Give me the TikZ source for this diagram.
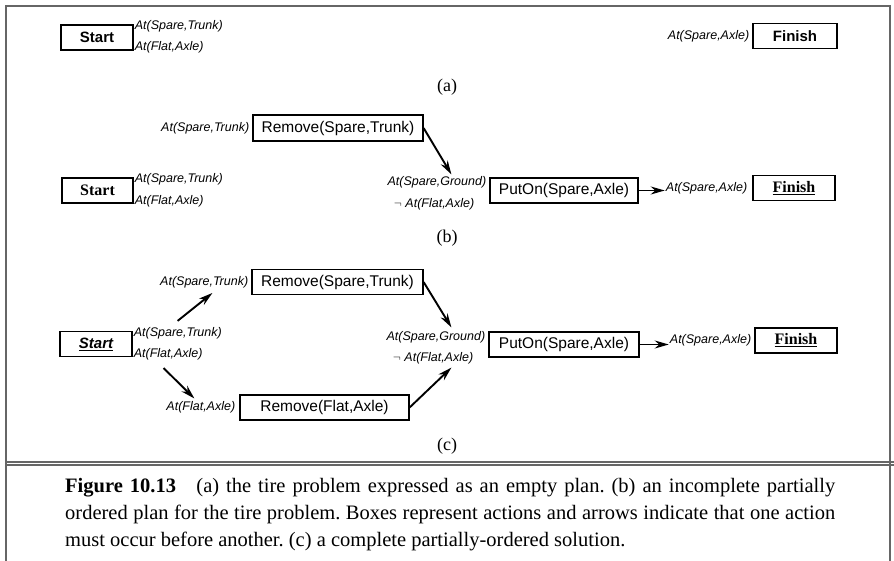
\documentclass[tikz,border=0pt]{standalone}
\usepackage{fontspec}
\setmainfont{Liberation Serif}
\setsansfont{Liberation Sans}
\usetikzlibrary{arrows.meta}
\tikzset{act/.style={draw=black,line width=1.2pt,inner sep=0pt,minimum height=25pt,font=\sffamily\fontsize{15.5}{16}\selectfont},
 endact/.style={act,font=\sffamily\bfseries\fontsize{15}{16}\selectfont},
 cond/.style={inner sep=1pt,font=\sffamily\itshape\fontsize{12.5}{13}\selectfont},
 arrow/.style={-{Stealth[length=14pt,width=8pt]},line width=1.9pt},
 frame/.style={draw=black!60,line width=1.6pt}}

\begin{document}
\begin{tikzpicture}[x=1pt,y=-1pt]
 \useasboundingbox (0,0) rectangle (894,561);
 % frame and caption rule
 \draw[frame] (6,561) -- (6,6) -- (890,6) -- (890,561);
 \draw[frame,line width=1.2pt] (6,462) -- (894,462);
 \draw[frame,line width=1.2pt] (6,465) -- (894,465);
 \foreach \y/\lab in {87/a,238/b,446/c}{
  \node[font=\fontsize{18}{20}\selectfont] (part\lab) at (447,\y) {(\lab)};
 }
 % (a) empty plan
 \node[endact,minimum width=72pt] (starta) at (97,37.5) {Start};
 \node[cond,anchor=west] (sta1) at ([yshift=-2pt]starta.north east) {At(Spare,Trunk)};
 \node[cond,anchor=west] (sta2) at ([yshift=3pt]starta.south east) {At(Flat,Axle)};
 \node[endact,minimum width=84pt] (fina) at (795,36) {Finish};
 \node[cond,anchor=east] (fna) at ([xshift=-2pt]fina.west) {At(Spare,Axle)};

 % (b) incomplete plan
 \node[act,minimum width=170pt,minimum height=26pt] (remb) at (338,128) {Remove(Spare,Trunk)};
 \node[cond,anchor=east] (rmb) at ([xshift=-2pt]remb.west) {At(Spare,Trunk)};
 \node[endact,minimum width=71pt,font=\rmfamily\bfseries\fontsize{16}{16}\selectfont] (startb) at (97.5,190.5) {Start};
 \node[cond,anchor=west] (stb1) at ([yshift=-2pt]startb.north east) {At(Spare,Trunk)};
 \node[cond,anchor=west] (stb2) at ([yshift=2pt]startb.south east) {At(Flat,Axle)};
 \node[act,minimum width=148pt] (putb) at (564,190.5) {PutOn(Spare,Axle)};
 \node[cond,anchor=east] (pb1) at ([xshift=-2pt,yshift=-5pt]putb.north west) {At(Spare,Ground)};
 \node[cond,anchor=east] (pb2) at ([xshift=-14pt,yshift=-1pt]putb.south west) {$\neg$ At(Flat,Axle)};
 \node[endact,minimum width=82pt,font=\rmfamily\bfseries\fontsize{16}{16}\selectfont] (finb) at (794,188) {\underline{Finish}};
 \node[cond,anchor=east] (fnb) at ([xshift=-4pt]finb.west) {At(Spare,Axle)};
 \draw[arrow] (remb.east) -- ([xshift=-38pt,yshift=3pt]putb.north west);
 \draw[arrow] (putb.east) -- (putb.east -| fnb.west);

 % (c) complete plan
 \node[endact,minimum width=72pt,font=\sffamily\bfseries\itshape\fontsize{15}{16}\selectfont] (startc) at (96,344) {\underline{Start}};
 \node[cond,anchor=west] (stc1) at ([yshift=-2pt]startc.north east) {At(Spare,Trunk)};
 \node[cond,anchor=west] (stc2) at ([yshift=3pt]startc.south east) {At(Flat,Axle)};
 \node[act,minimum width=171pt] (remc) at (337.5,282) {Remove(Spare,Trunk)};
 \node[cond,anchor=east] (rmc) at ([xshift=-2pt]remc.west) {At(Spare,Trunk)};
 \node[act,minimum width=169pt] (remf) at (324.5,407.5) {Remove(Flat,Axle)};
 \node[cond,anchor=east] (rmf) at ([xshift=-3pt]remf.west) {At(Flat,Axle)};
 \node[act,minimum width=150pt] (putc) at (564,344.5) {PutOn(Spare,Axle)};
 \node[cond,anchor=east] (pc1) at ([xshift=-2pt,yshift=-6pt]putc.north west) {At(Spare,Ground)};
 \node[cond,anchor=east] (pc2) at ([xshift=-14pt,yshift=-1pt]putc.south west) {$\neg$ At(Flat,Axle)};
 \node[endact,minimum width=82pt,font=\rmfamily\bfseries\fontsize{16}{16}\selectfont] (finc) at (796,340.5) {\underline{Finish}};
 \node[cond,anchor=east] (fnc) at ([xshift=-2pt]finc.west) {At(Spare,Axle)};
 \draw[arrow] ([xshift=45pt,yshift=10pt]startc.north east) -- ([xshift=-39pt,yshift=-11pt]remc.west);
 \draw[arrow] ([xshift=31pt,yshift=-11pt]startc.south east) -- ([xshift=-45pt,yshift=9pt]remf.west);
 \draw[arrow] (remc.east) -- ([xshift=-37pt,yshift=4pt]putc.north west);
 \draw[arrow] (remf.east) -- ([xshift=-37pt,yshift=-10pt]putc.south west);
 \draw[arrow] (putc.east) -- (putc.east -| fnc.west);

 % caption
 \node[anchor=north west,inner sep=0pt,text width=770pt,align=justify,
  font=\fontsize{20.5}{27}\selectfont\frenchspacing] (capt) at (65,478)
  {\textbf{Figure 10.13}\hspace{1em}(a) the tire problem expressed as an empty plan. (b) an incomplete partially\linebreak
   ordered plan for the tire problem. Boxes represent actions and arrows indicate that one action\linebreak
   must occur before another. (c) a complete partially-ordered solution.};
\end{tikzpicture}
\end{document}
